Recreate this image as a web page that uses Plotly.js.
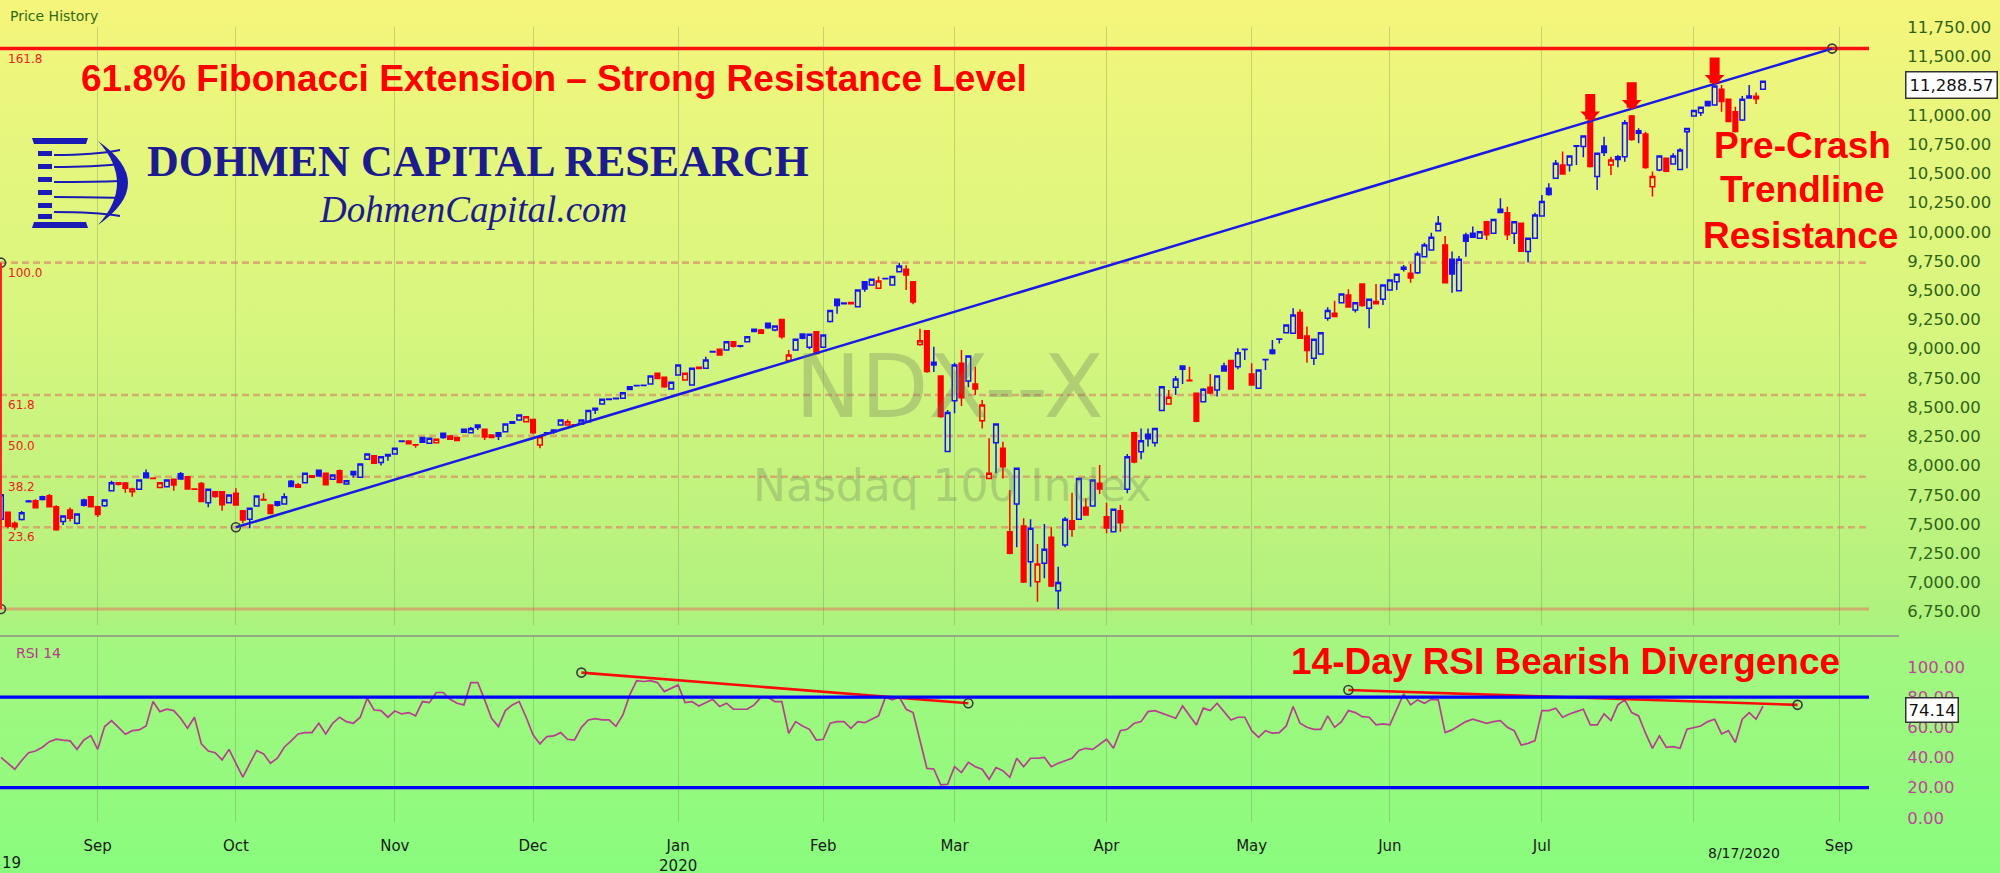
<!DOCTYPE html>
<html><head><meta charset="utf-8">
<script src="https://cdn.plot.ly/plotly-3.0.1.min.js"></script>
<style>
html,body{margin:0;padding:0;background:#88fc7e;}
#chart{width:2000px;height:873px;background:linear-gradient(to bottom,#f6f57b 0%,#e8f67d 14%,#d8f67e 36%,#c2f37e 56%,#b0f27e 70%,#a3f780 74%,#92fa7e 92%,#88fc7e 100%);}
</style></head><body><div id="chart"></div>
<script>
// ---------- calendar ----------
const holidays = ['2019-09-02','2019-11-28','2019-12-25','2020-01-01','2020-01-20','2020-02-17','2020-04-10','2020-05-25','2020-07-03'];
function buildCalendar(start, end, hol) {
  const out = [];
  const d = new Date(start + 'T00:00:00Z');
  const e = new Date(end + 'T00:00:00Z');
  while (d <= e) {
    const wd = d.getUTCDay();
    const s = d.toISOString().slice(0, 10);
    if (wd !== 0 && wd !== 6 && hol.indexOf(s) < 0) out.push(s);
    d.setUTCDate(d.getUTCDate() + 1);
  }
  return out;
}
const calendar = buildCalendar('2019-08-13', '2020-09-04', holidays);

// ---------- NDX daily OHLC, 2019-08-13 .. 2020-08-17 ----------
const openP = [
 7540,7600,7505,7539,7690,7699,7733,7742,7648,7520,7620,7505,7705,7733,
 7648,7656,7785,7853,7850,7776,7796,7935,7892,7813,
 7819,7882,7930,7905,7800,7847,7682,7776,7776,7682,
 7762,7614,7540,7653,7710,7662,7690,7670,7865,7835,
 7853,7913,7960,7933,7882,7956,7842,7948,7900,8053,
 8084,8025,8095,8099,8205,8210,8178,8241,8190,8195,
 8276,8253,8241,8310,8281,8347,8310,8262,8281,8290,
 8375,8390,8375,8395,8176,8278,8304,8347,8347,8350,
 8356,8375,8490,8527,8565,8572,8575,8675,8682,8684,
 8698,8789,8755,8655,8775,8732,8689,8842,8832,8972,
 8995,8989,9060,9020,9060,9166,9160,9217,9160,9251,
 8898,8989,9126,9012,9146,9012,9232,9423,9385,9395,
 9360,9574,9545,9517,9598,9545,9659,9680,9574,9037,
 9154,8885,8766,8120,8555,8875,8724,8698,8384,7890,
 8196,8147,7434,7671,7483,7177,7006,7163,7386,6929,
 7320,7528,7540,7642,7654,7848,7562,7434,7614,7797,
 8281,8119,8267,8196,8470,8527,8670,8852,8730,8618,
 8547,8670,8647,8852,8898,8846,8993,8784,8661,8905,
 8989,9080,9137,9132,9309,9109,8918,8955,9260,9303,
 9394,9460,9331,9554,9346,9403,9423,9503,9574,9697,
 9645,9651,9788,9845,10010,9888,9765,9497,9973,9988,
 9945,10087,9988,10193,10164,9988,10073,9831,9945,10136,
 10373,10458,10573,10573,10733,10730,10950,10473,10735,10573,
 10644,10644,10992,10866,10838,10387,10530,10630,10581,10535,
 10858,10992,11020,11115,11086,11220,11135,11029,10958,11163,
 11160,11220];
const highP = [
 7790,7605,7520,7610,7705,7712,7742,7756,7660,7575,7640,7590,7715,7738,
 7655,7712,7870,7855,7858,7810,7880,7967,7895,7858,
 7880,7885,7945,7910,7805,7860,7800,7780,7780,7752,
 7805,7620,7640,7745,7762,7668,7695,7762,7876,7850,
 7940,7915,7965,7940,7925,7965,7872,7950,8015,8105,
 8090,8080,8100,8150,8215,8212,8180,8245,8236,8228,
 8282,8262,8245,8312,8330,8350,8315,8265,8285,8360,
 8378,8440,8425,8400,8250,8285,8306,8395,8395,8352,
 8395,8475,8495,8572,8575,8580,8628,8680,8688,8690,
 8770,8795,8760,8715,8865,8795,8835,8848,8932,8980,
 9000,9065,9065,9030,9108,9170,9168,9225,9198,9255,
 8989,9085,9130,9128,9150,9120,9330,9428,9395,9398,
 9505,9580,9600,9617,9608,9622,9736,9715,9580,9170,
 9160,9017,8770,8475,8880,8989,8945,8846,8561,8233,
 8360,8204,7791,7980,7548,7540,7328,7500,7471,7134,
 7560,7768,7895,7720,7880,8005,7682,7630,7662,8099,
 8290,8318,8318,8322,8680,8647,8766,8858,8846,8625,
 8662,8784,8770,8880,8900,9003,8998,8875,8820,8912,
 9075,9085,9210,9346,9337,9189,9085,9140,9354,9411,
 9472,9508,9398,9560,9428,9554,9550,9592,9640,9717,
 9725,9831,9908,9993,10136,9965,9831,9794,9993,10045,
 10005,10095,10110,10287,10216,10090,10080,9950,10164,10316,
 10416,10615,10687,10655,10740,10825,10960,10680,10815,10644,
 10658,10958,11000,10886,10858,10516,10655,10635,10672,10715,
 10890,11040,11070,11118,11255,11257,11140,11072,11163,11257,
 11192,11295];
const lowP = [
 7520,7462,7448,7530,7685,7635,7700,7640,7442,7490,7520,7495,7650,7640,
 7560,7648,7780,7830,7768,7733,7790,7890,7885,7810,
 7815,7785,7880,7795,7790,7690,7642,7725,7614,7675,
 7655,7505,7463,7648,7700,7585,7650,7665,7815,7812,
 7850,7895,7905,7830,7878,7850,7840,7898,7898,8050,
 8015,8000,8040,8095,8200,8180,8153,8195,8185,8192,
 8230,8220,8210,8280,8278,8304,8219,8238,8219,8285,
 8355,8385,8370,8270,8147,8275,8272,8345,8340,8340,
 8352,8370,8441,8525,8562,8570,8572,8645,8678,8680,
 8695,8740,8665,8650,8770,8725,8685,8825,8828,8968,
 8940,8985,9010,9010,9055,9140,9125,9170,9150,9085,
 8890,8985,9080,8995,8955,9005,9225,9300,9380,9380,
 9355,9488,9540,9510,9595,9540,9655,9502,9380,9025,
 8795,8800,8410,8119,8447,8510,8670,8604,8318,7885,
 7933,7890,7240,7300,6995,6963,6835,7035,6960,6772,
 7300,7391,7535,7570,7650,7757,7420,7430,7434,7762,
 8020,8053,8162,8162,8465,8520,8604,8698,8720,8370,
 8540,8610,8590,8805,8650,8824,8903,8685,8655,8818,
 8950,9045,9130,9125,9085,8880,8860,8950,9240,9270,
 9390,9350,9309,9360,9175,9380,9374,9500,9503,9660,
 9565,9640,9780,9840,10005,9560,9480,9490,9788,9950,
 9940,9930,9985,10160,9930,9896,9830,9737,9940,10130,
 10310,10455,10490,10516,10573,10638,10550,10358,10650,10487,
 10553,10601,10780,10758,10540,10302,10520,10510,10575,10530,
 10544,10988,10992,11075,11080,11029,10940,10850,10950,11140,
 11095,11215];
const closeP = [
 7750,7480,7477,7596,7696,7639,7710,7648,7450,7568,7548,7585,7660,7648,
 7580,7705,7853,7840,7805,7800,7876,7895,7890,7853,
 7876,7833,7885,7800,7796,7693,7796,7735,7665,7748,
 7662,7534,7634,7739,7705,7590,7660,7733,7820,7815,
 7933,7900,7910,7835,7919,7855,7870,7922,8013,8099,
 8020,8076,8082,8147,8210,8186,8176,8200,8233,8224,
 8240,8226,8215,8285,8318,8325,8245,8241,8250,8356,
 8362,8433,8418,8280,8247,8281,8290,8390,8375,8345,
 8390,8470,8475,8567,8570,8576,8624,8650,8685,8688,
 8766,8746,8675,8712,8861,8789,8832,8830,8903,8976,
 8946,9060,9020,9025,9103,9148,9132,9180,9194,9103,
 8946,9080,9090,9123,8960,9117,9326,9370,9392,9385,
 9502,9510,9594,9580,9602,9617,9708,9630,9400,9069,
 8805,8860,8420,8453,8861,8580,8938,8655,8518,7933,
 8356,7990,7249,7976,7002,7463,7157,7283,6969,6998,
 7540,7454,7890,7577,7876,7800,7465,7625,7511,8076,
 8030,8213,8230,8318,8675,8584,8741,8825,8725,8380,
 8652,8620,8766,8810,8655,8966,8995,8690,8818,8908,
 8960,9082,9203,9289,9090,8985,9080,9137,9326,9275,
 9468,9356,9394,9370,9423,9385,9545,9588,9637,9680,
 9605,9811,9888,9953,10073,9565,9640,9765,9920,9955,
 10002,9975,10107,10165,9975,10087,9835,9945,10144,10259,
 10320,10587,10496,10650,10738,10821,10560,10672,10680,10615,
 10620,10935,10790,10845,10550,10473,10650,10520,10650,10701,
 10884,11038,11066,11080,11249,11115,10945,10860,11135,11145,
 11140,11288.57];
const rsi14 = [
 40.1,36,32.2,38,43.2,44.3,46.8,50.5,52.1,51.5,51,45.4,51.6,54.5,
 45.4,60.5,64.5,60,55.4,57.8,58.3,60.9,77.1,70.4,
 72,71.1,66,59.4,66.7,49,44.3,43.2,38.4,45.4,
 36,26.9,36,44.6,42.4,36.2,39.5,46.8,51,55.6,
 56.5,56.5,62.7,55.6,62.7,66.7,63.8,62.7,66.7,79.3,
 71.5,71.1,66.7,70.9,68.9,69.8,67.6,77.1,76.4,83.1,
 83.1,78.6,76,74.9,89.7,89.7,78.2,66,60.5,71.1,
 74.9,77.1,66.7,55,49,53.9,54.3,56.5,52.1,51.6,
 60,64.9,65.8,64.9,64.9,60.7,68.2,81.5,91,90.4,
 91,89.7,83.7,85.9,88.1,76.4,77.1,74.2,76.4,78.6,
 73.8,76,72,72,72,74.9,80,80,77.1,77.1,
 56.1,63.8,60.9,58.7,51.6,52.1,62.7,63.8,63.8,59.4,
 63.8,63.1,65.4,67.6,80,78.2,80,72,69.8,50.5,
 32.8,32.4,21.8,22.2,33.9,30,36.8,33.9,32.2,25.5,
 33.3,31.3,26.9,39.5,33.9,39.5,39.5,40.1,33.9,36.2,
 37.9,39.5,44.6,46.1,45.4,49,52.1,46.1,57.8,58.7,
 62.7,63.8,70.4,71.1,69.3,67.6,66,74.2,68.2,61.6,
 72.7,71.1,76,70.4,64.9,66.7,66.7,57.8,53.4,57.8,
 56.1,56.5,60.9,73.8,62.7,60,58.7,58.7,67.6,60,
 63.8,71.1,69.8,67.1,66.7,61.6,62.3,61.6,72,82.2,
 74.9,78.2,76,78.6,78.2,56.5,58.3,60.9,63.8,65.4,
 63.8,62.7,63.8,64.5,60,57.8,48.3,49.4,51.2,71.1,
 71.1,72.7,66.7,68.9,70.4,72,61.6,61.6,68.9,64.5,
 74.9,78.2,69.8,67.6,56.1,46.1,54.3,46.8,47.2,46.1,
 58.7,60,60.9,63.8,65.4,55.6,57.8,49.9,65.4,69.8,
 65.4,74.14];

// ---------- axis ticks ----------
const tickMonths = ['2019-09','2019-10','2019-11','2019-12','2020-01','2020-02','2020-03','2020-04','2020-05','2020-06','2020-07','2020-08','2020-09'];
const tickLabels = ['Sep','Oct','Nov','Dec','Jan<br>2020','Feb','Mar','Apr','May','Jun','Jul','','Sep'];
// price labels shown on the right axis (11,250.00 sits under the last-price box in the reference)
const priceTickVals = [6750,7000,7250,7500,7750,8000,8250,8500,8750,9000,9250,9500,9750,10000,10250,10500,10750,11000,11500,11750];
const rsiTickVals = [0, 20, 40, 60, 80, 100];

// ---------- drawing tools ----------
const fibLow = 6771.91, fibHigh = 9736.57;
const fibRatios = [0, 23.6, 38.2, 50, 61.8, 100, 161.8];
const trendDates = ['2019-10-01', '2020-08-31'];
const trendPrices = [7471.6, 11568.7];
const div1Dates = ['2019-12-11', '2020-03-04'];
const div1Rsi = [96.3, 76.0];
const div2Dates = ['2020-05-21', '2020-08-24'];
const div2Rsi = [84.8, 74.9];
const rsiBands = [20, 80];
const arrowDates = ['2020-07-13', '2020-07-21', '2020-08-06'];
const arrowTips = [10945, 11045, 11258];

// ---------- build ----------
const BLUE = '#1414f0', RED = '#ff0000';
const idxOf = s => calendar.indexOf(s);
const groups = {blue:{x:[],o:[],h:[],l:[],c:[]}, red:{x:[],o:[],h:[],l:[],c:[]}};
for (let i = 0; i < closeP.length; i++) {
  const up = i === 0 ? true : closeP[i] >= closeP[i-1];
  const g = up ? groups.blue : groups.red;
  g.x.push(i); g.o.push(openP[i]); g.h.push(highP[i]); g.l.push(lowP[i]); g.c.push(closeP[i]);
}
function candleTrace(g, col) {
  return {type:'candlestick', x:g.x, open:g.o, high:g.h, low:g.l, close:g.c,
    xaxis:'x', yaxis:'y', whiskerwidth:0, hoverinfo:'skip', showlegend:false,
    increasing:{line:{color:col, width:1.5}, fillcolor:'rgba(0,0,0,0)'},
    decreasing:{line:{color:col, width:1.5}, fillcolor:col}};
}
const tickVals = tickMonths.map(m => calendar.findIndex(d => d.startsWith(m)));
const fibLevel = r => fibLow + r / 100 * (fibHigh - fibLow);

const circleMarker = {symbol:'circle-open', size:9, color:'#3a3a3a', line:{width:1.6, color:'#3a3a3a'}};
const traces = [
  candleTrace(groups.blue, BLUE),
  candleTrace(groups.red, RED),
  {type:'scatter', mode:'lines+markers', x:trendDates.map(idxOf), y:trendPrices, xaxis:'x', yaxis:'y',
   line:{color:'#1a1ae6', width:2.5}, marker:circleMarker, hoverinfo:'skip', cliponaxis:false},
  {type:'scatter', mode:'markers', x:[0,0], y:[fibHigh, fibLow], xaxis:'x', yaxis:'y',
   marker:circleMarker, hoverinfo:'skip'},
  {type:'scatter', mode:'lines', x:closeP.map((_, i) => i), y:rsi14, xaxis:'x', yaxis:'y2',
   line:{color:'#b83d8f', width:1.7}, hoverinfo:'skip'},
  {type:'scatter', mode:'lines+markers', x:div1Dates.map(idxOf), y:div1Rsi, xaxis:'x', yaxis:'y2',
   line:{color:'#ff0a0a', width:2.6}, marker:circleMarker, hoverinfo:'skip', cliponaxis:false},
  {type:'scatter', mode:'lines+markers', x:div2Dates.map(idxOf), y:div2Rsi, xaxis:'x', yaxis:'y2',
   line:{color:'#ff0a0a', width:2.6}, marker:circleMarker, hoverinfo:'skip', cliponaxis:false}
];

// pixel helpers for decorations (plot area: x 0..1869, y 27..822)
const PW = 1869, PB = 822, PH = 795;
const PX = x => x / PW;
const PY = y => (PB - y) / PH;
function pathPx(str) {
  let k = 0;
  return str.replace(/-?\d+(\.\d+)?/g, m => { const v = parseFloat(m); const r = (k % 2 === 0) ? PX(v) : PY(v); k++; return r.toFixed(5); });
}

const TAN = 'rgba(215,155,105,0.8)';
const shapes = [];
fibRatios.forEach(r => {
  const y = fibLevel(r);
  let line;
  if (r === 161.8) line = {color:'#ff1010', width:3.5};
  else if (r === 0) line = {color:TAN, width:3};
  else line = {color:TAN, width:2.6, dash:'7px,4px'};
  shapes.push({type:'line', xref:'paper', yref:'y', x0:0, x1:1, y0:y, y1:y, line, layer:'below'});
});
shapes.push({type:'line', xref:'x', yref:'y', x0:0, x1:0, y0:fibLow, y1:fibHigh, line:{color:'#ff2020', width:2}});
rsiBands.forEach(v => shapes.push({type:'line', xref:'paper', yref:'y2', x0:0, x1:1, y0:v, y1:v, line:{color:'#0000ff', width:3.2}}));
shapes.push({type:'line', xref:'paper', yref:'paper', x0:0, x1:PX(1899), y0:PY(636), y1:PY(636), line:{color:'#8c8c8c', width:1.5}});

// logo icon
const LOGO = '#1a1ab4';
const logoPaths = [
  'M 32 138 L 88 138 L 86 144 L 34 144 Z',
  'M 34 222 L 86 222 L 88 228 L 32 228 Z',
  'M 98 141 Q 158 183 98 225 Q 136 183 98 141 Z'
];
[151, 164, 177, 190, 203, 214].forEach(y => logoPaths.push(`M 38 ${y} L 52 ${y} L 52 ${y+5} L 38 ${y+5} Z`));
logoPaths.forEach(p => shapes.push({type:'path', xref:'paper', yref:'paper', path:pathPx(p), fillcolor:LOGO, line:{width:0}}));
[[155,150],[167,164],[182,181],[197,198],[212,216]].forEach(([y, y2]) => shapes.push({type:'path', xref:'paper', yref:'paper',
  path:pathPx(`M 54 ${y} Q 95 ${y} 120 ${y2}`), line:{color:LOGO, width:2}}));

const RED_T = '#ff0000';
const ann = [];
const A = o => ann.push(Object.assign({showarrow:false, xref:'paper', yref:'paper'}, o));
function lastDateLabel() {
  const last = calendar[closeP.length - 1].split('-');
  return (+last[1]) + '/' + (+last[2]) + '/' + last[0];
}
A({x:PX(79), y:PY(79), xanchor:'left', yanchor:'middle', text:'<b>61.8% Fibonacci Extension – Strong Resistance Level</b>', font:{family:'Liberation Sans', size:37, color:RED_T}});
A({x:PX(1802), y:PY(146), xanchor:'center', yanchor:'middle', text:'<b>Pre-Crash</b>', font:{family:'Liberation Sans', size:37, color:RED_T}});
A({x:PX(1802), y:PY(190), xanchor:'center', yanchor:'middle', text:'<b>Trendline</b>', font:{family:'Liberation Sans', size:37, color:RED_T}});
A({x:PX(1800), y:PY(235), xanchor:'center', yanchor:'middle', text:'<b>Resistance</b>', font:{family:'Liberation Sans', size:37, color:RED_T}});
A({x:PX(1565.5), y:PY(661.5), xanchor:'center', yanchor:'middle', text:'<b>14-Day RSI Bearish Divergence</b>', font:{family:'Liberation Sans', size:37, color:RED_T}});
A({x:PX(145), y:PY(162), xanchor:'left', yanchor:'middle', text:'<b>DOHMEN CAPITAL RESEARCH</b>', font:{family:'Liberation Serif', size:44, color:'#1c1c8e'}});
A({x:PX(317), y:PY(210), xanchor:'left', yanchor:'middle', text:'<i>DohmenCapital.com</i>', font:{family:'Liberation Serif', size:37, color:'#1c1c8e'}});
A({x:PX(950), y:PY(386), xanchor:'center', yanchor:'middle', text:'NDX--X', font:{family:'DejaVu Sans', size:88, color:'rgba(105,115,90,0.30)'}});
A({x:PX(952), y:PY(485), xanchor:'center', yanchor:'middle', text:'Nasdaq 100 Index', font:{family:'DejaVu Sans', size:44, color:'rgba(105,115,90,0.30)'}});
A({x:PX(8), y:PY(16), xanchor:'left', yanchor:'middle', text:'Price History', font:{family:'DejaVu Sans', size:14, color:'#2e6b12'}});
A({x:PX(14), y:PY(653), xanchor:'left', yanchor:'middle', text:'RSI 14', font:{family:'DejaVu Sans', size:14, color:'#b83c8c'}});
A({x:0, y:PY(863), xanchor:'left', yanchor:'middle', text:'19', font:{family:'DejaVu Sans', size:15, color:'#1a1a1a'}});
A({x:PX(1744), y:PY(853), xanchor:'center', yanchor:'middle', text:lastDateLabel(), font:{family:'DejaVu Sans', size:14, color:'#1a1a1a'}});
fibRatios.filter(r => r > 0).forEach(r => ann.push({showarrow:false, xref:'paper', yref:'y', x:PX(6), y:fibLevel(r), yshift:-10,
  xanchor:'left', yanchor:'middle', text:r.toFixed(1), font:{family:'DejaVu Sans', size:12, color:'#ee2020'}}));
arrowDates.forEach((d, i) => ann.push({xref:'x', yref:'y', x:idxOf(d), y:arrowTips[i], text:'', showarrow:true,
  ax:0, ay:-29, arrowcolor:'#ff0000', arrowwidth:10, arrowsize:0.33, arrowhead:1}));
const lastClose = closeP[closeP.length - 1];
ann.push({showarrow:false, xref:'paper', yref:'y', x:PX(1905), y:lastClose, yshift:-4, xanchor:'left', yanchor:'middle',
  text:lastClose.toLocaleString('en-US', {minimumFractionDigits:2, maximumFractionDigits:2}),
  bgcolor:'#ffffff', bordercolor:'#333333', borderwidth:1.5, borderpad:3, font:{family:'DejaVu Sans', size:16.5, color:'#111'}});
const lastRsi = rsi14[rsi14.length - 1];
ann.push({showarrow:false, xref:'paper', yref:'y2', x:PX(1905), y:lastRsi, yshift:-4, xanchor:'left', yanchor:'middle',
  text:lastRsi.toFixed(2), bgcolor:'#ffffff', bordercolor:'#333333', borderwidth:1.5, borderpad:2, font:{family:'DejaVu Sans', size:16.5, color:'#111'}});

const layout = {
  width:2000, height:873,
  margin:{l:0, r:131, t:27, b:51, pad:0},
  paper_bgcolor:'rgba(0,0,0,0)', plot_bgcolor:'rgba(0,0,0,0)',
  showlegend:false, hovermode:false, dragmode:false,
  boxgap:0.33, boxgroupgap:0,
  font:{family:'DejaVu Sans', size:15, color:'#1a1a1a'},
  xaxis:{type:'linear', range:[-0.14, 270.34], anchor:'y2', tickmode:'array', tickvals:tickVals, ticktext:tickLabels,
    showgrid:true, gridcolor:'rgba(100,115,80,0.28)', gridwidth:1, zeroline:false, showline:false,
    ticks:'outside', ticklen:10, tickcolor:'rgba(0,0,0,0)', rangeslider:{visible:false},
    tickfont:{family:'DejaVu Sans', size:15, color:'#1a1a1a'}},
  yaxis:{domain:[0.2478, 1], range:[6635, 11753.7], side:'right', anchor:'x', tickmode:'array', tickvals:priceTickVals,
    ticktext:priceTickVals.map(v => v.toLocaleString('en-US', {minimumFractionDigits:2, maximumFractionDigits:2})),
    showgrid:false, zeroline:false, showline:false, ticks:'outside', ticklen:34, tickcolor:'rgba(0,0,0,0)',
    tickfont:{family:'DejaVu Sans', size:16.5, color:'#2f6418'}},
  yaxis2:{domain:[0, 0.234], range:[-2.79, 120.6], side:'right', anchor:'x', tickmode:'array', tickvals:rsiTickVals,
    ticktext:rsiTickVals.map(v => v.toFixed(2)), showgrid:false, zeroline:false, showline:false,
    ticks:'outside', ticklen:34, tickcolor:'rgba(0,0,0,0)', tickfont:{family:'DejaVu Sans', size:16.5, color:'#c0449a'}},
  shapes:shapes, annotations:ann
};
Plotly.newPlot('chart', traces, layout, {staticPlot:true, displayModeBar:false});
</script></body></html>
